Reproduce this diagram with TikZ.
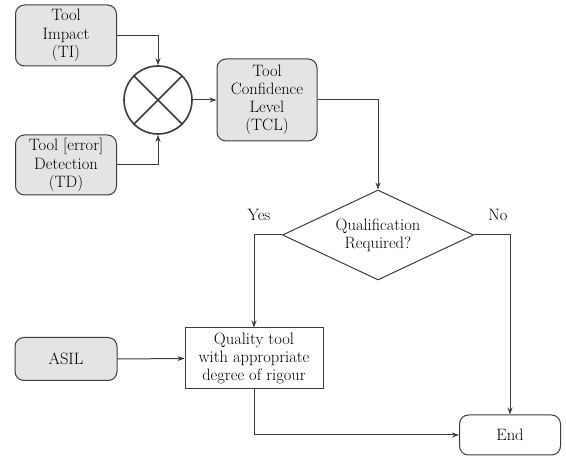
\documentclass[tikz,border=0pt]{standalone}
\usetikzlibrary{shapes,arrows.meta,positioning,calc}
\usepackage{xcolor}
\definecolor{boxgray}{HTML}{E4E4E4}
\definecolor{linegray}{HTML}{3C3C3C}

\begin{document}
\begin{tikzpicture}[x=1pt, y=1pt,
  input/.style={rectangle, rounded corners=9pt, draw=linegray, fill=boxgray, line width=1pt, minimum width=101pt, align=center, font=\fontsize{16.5}{18.2}\selectfont},
  process/.style={rectangle, draw=linegray, line width=1pt, minimum width=138pt, minimum height=61pt, align=center, font=\fontsize{16.5}{18.2}\selectfont},
  decision/.style={diamond, aspect=2.1, draw=linegray, line width=1pt, minimum width=191pt, minimum height=90pt, inner sep=0pt, align=center, font=\fontsize{16.5}{18.2}\selectfont},
  terminal/.style={rectangle, rounded corners=9pt, draw=linegray, line width=1pt, minimum width=101pt, minimum height=40pt, font=\fontsize{16.5}{18.2}\selectfont},
  mult/.style={circle, draw=linegray, line width=1.6pt, minimum size=68pt},
  lbl/.style={font=\fontsize{16.5}{18.2}\selectfont},
  flow/.style={->, draw=linegray, line width=1pt},
  >={Stealth[length=7pt,width=5pt]}
]
\useasboundingbox (0,0) rectangle (566,-462);

\node[input, minimum height=61pt] (ti) at (66,-35.5) {Tool\\ Impact\\ (TI)};
\node[input, minimum height=60pt] (td) at (66,-165) {Tool [error]\\ Detection\\ (TD)};
\node[mult] (x) at (158,-100) {};
\draw[linegray, line width=1.6pt] (x.north west) -- (x.south east) (x.north east) -- (x.south west);
\node[input, minimum width=100pt, minimum height=82pt] (tcl) at (267,-100) {Tool\\ Confidence\\ Level\\ (TCL)};

\node[decision] (qr) at (378,-235) {Qualification\\ Required?};
\node[lbl] (yes) at (259,-215) {Yes};
\node[lbl] (no) at (498,-215) {No};

\node[process] (qt) at (254,-358.5) {Quality tool\\ with appropriate\\ degree of rigour};
\node[input, minimum width=102pt, minimum height=43pt] (asil) at (66,-359) {ASIL};
\node[terminal] (end) at (510,-435) {End};

% inputs into the multiplier
\draw[flow] (ti.east) -| (x.north);
\draw[flow] (td.east) -| (x.south);
\draw[flow] (x.east) -- (tcl.west);
\draw[flow] (tcl.east) -| (qr.north);

% decision branches
\draw[flow] (qr.west) -| (qt.north);
\draw[flow] (qr.east) -| (end.north);
\draw[flow] (asil.east) -- (qt.west);
\draw[flow] (qt.south) |- (end.west);
\end{tikzpicture}
\end{document}
